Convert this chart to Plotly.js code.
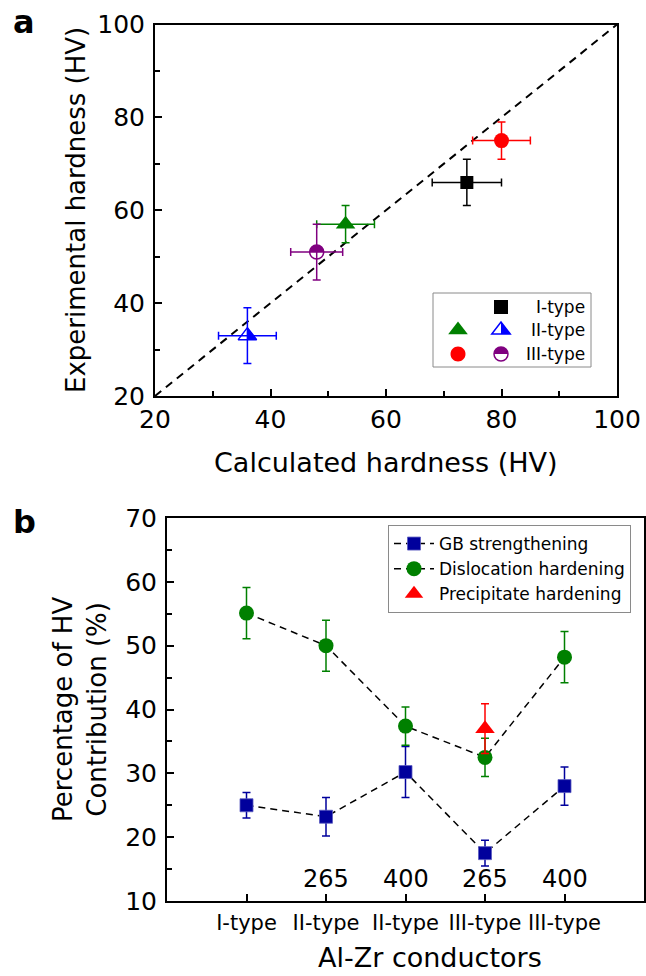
<!DOCTYPE html>
<html>
<head>
<meta charset="utf-8">
<script src="https://cdn.plot.ly/plotly-3.0.1.min.js"></script>
<style>html,body{margin:0;padding:0;background:#fff;}</style>
</head>
<body>
<div id="chart" style="width:646px;height:976px;"></div>
<script>
// ---------- Panel a data ----------
const diagCalc = [20, 100];
const diagExp = [20, 100];

const typeI_calc = [74];
const typeI_exp = [66];
const typeI_calcErr = [6];
const typeI_expErr = [5];

const typeII_filled_calc = [53];
const typeII_filled_exp = [57];
const typeII_filled_calcErr = [5];
const typeII_filled_expErr = [4];

const typeII_half_calc = [36];
const typeII_half_exp = [33];
const typeII_half_calcErr = [5];
const typeII_half_expErr = [6];

const typeIII_filled_calc = [80];
const typeIII_filled_exp = [75];
const typeIII_filled_calcErr = [5];
const typeIII_filled_expErr = [4];

const typeIII_half_calc = [48];
const typeIII_half_exp = [51];
const typeIII_half_calcErr = [4.5];
const typeIII_half_expErr = [6];

const legendALabels = ['I-type', 'II-type', 'III-type'];

// ---------- Panel b data ----------
const bCategories = ['I-type', 'II-type', 'II-type', 'III-type', 'III-type'];
const bTemps = ['', '265', '400', '265', '400'];
const bIndex = [0, 1, 2, 3, 4];
const gbValues = [25, 23.2, 30.2, 17.5, 28];
const gbErr = [2, 3, 4, 2, 3];
const dislValues = [55.1, 50, 37.4, 32.5, 48.2];
const dislErr = [4, 4, 3, 3, 4];
const precipIndex = [3];
const precipValues = [37];
const precipErr = [3.9];
const bSeriesNames = ['GB strengthening', 'Dislocation hardening', 'Precipitate hardening'];

// ---------- helpers ----------
const W = 646, H = 976;
const px = v => v / W;
const py = v => 1 - v / H;
const FONT = 'DejaVu Sans, Liberation Sans, Arial, sans-serif';
const K = 0.5523;

function triPath(s) {
  const r = s / 2, rt = r * 2 / Math.sqrt(3);
  return `M${-rt},${-r/2} L${rt},${-r/2} L0,${r} Z`;
}
function rightHalfTriPath(s) {
  const r = s / 2, rt = r * 2 / Math.sqrt(3);
  return `M0,${r} L0,${-r/2} L${rt},${-r/2} Z`;
}
function circlePath(s) {
  const r = s / 2;
  return `M${-r},0 C${-r},${K*r} ${-K*r},${r} 0,${r} C${K*r},${r} ${r},${K*r} ${r},0 ` +
         `C${r},${-K*r} ${K*r},${-r} 0,${-r} C${-K*r},${-r} ${-r},${-K*r} ${-r},0 Z`;
}
function topHalfCirclePath(s) {
  const r = s / 2;
  return `M${-r},0 C${-r},${K*r} ${-K*r},${r} 0,${r} C${K*r},${r} ${r},${K*r} ${r},0 Z`;
}
function squarePath(s) {
  const r = s / 2;
  return `M${-r},${-r} L${r},${-r} L${r},${r} L${-r},${r} Z`;
}
function markShape(path, xa, ya, xref, yref, fill, lineColor, lineWidth) {
  return {
    type: 'path', layer: 'above',
    xref: xref, yref: yref, xsizemode: 'pixel', ysizemode: 'pixel',
    xanchor: xa, yanchor: ya, path: path,
    fillcolor: fill, line: { color: lineColor || fill, width: lineWidth === undefined ? 0 : lineWidth }
  };
}

const GREEN = '#008000', RED = '#ff0000', BLUE = '#0000ff', PURPLE = '#800080', NAVY = '#00009c';

function ptTrace(xs, ys, xe, ye, color, symbol, size, lineW) {
  return {
    x: xs, y: ys, xaxis: 'x', yaxis: 'y', type: 'scatter', mode: 'markers', showlegend: false,
    marker: { color: color, symbol: symbol, size: size, line: { color: color, width: lineW || 0 } },
    error_x: { type: 'data', array: xe, visible: true, color: color, thickness: 1.5, width: 4 },
    error_y: { type: 'data', array: ye, visible: true, color: color, thickness: 1.5, width: 4 }
  };
}

const traces = [
  { x: diagCalc, y: diagExp, xaxis: 'x', yaxis: 'y', type: 'scatter', mode: 'lines', showlegend: false,
    line: { color: '#000', width: 2, dash: '8px,6px' } },
  ptTrace(typeI_calc, typeI_exp, typeI_calcErr, typeI_expErr, '#000000', 'square', 13),
  ptTrace(typeII_filled_calc, typeII_filled_exp, typeII_filled_calcErr, typeII_filled_expErr, GREEN, 'triangle-up', 17),
  ptTrace(typeII_half_calc, typeII_half_exp, typeII_half_calcErr, typeII_half_expErr, BLUE, 'triangle-up-open', 16, 1.5),
  ptTrace(typeIII_filled_calc, typeIII_filled_exp, typeIII_filled_calcErr, typeIII_filled_expErr, RED, 'circle', 15),
  ptTrace(typeIII_half_calc, typeIII_half_exp, typeIII_half_calcErr, typeIII_half_expErr, PURPLE, 'circle-open', 14, 1.5),

  // panel b
  { x: bIndex, y: gbValues, name: bSeriesNames[0], xaxis: 'x2', yaxis: 'y2', type: 'scatter', mode: 'lines+markers',
    line: { color: '#000', width: 1.5, dash: '7px,5px' },
    marker: { color: NAVY, symbol: 'square', size: 13, line: { color: '#5a5ac0', width: 0.8 } },
    error_y: { type: 'data', array: gbErr, visible: true, color: NAVY, thickness: 1.5, width: 4 } },
  { x: bIndex, y: dislValues, name: bSeriesNames[1], xaxis: 'x2', yaxis: 'y2', type: 'scatter', mode: 'lines+markers',
    line: { color: '#000', width: 1.5, dash: '7px,5px' },
    marker: { color: GREEN, symbol: 'circle', size: 15 },
    error_y: { type: 'data', array: dislErr, visible: true, color: GREEN, thickness: 1.5, width: 4 } },
  { x: precipIndex, y: precipValues, name: bSeriesNames[2], xaxis: 'x2', yaxis: 'y2', type: 'scatter', mode: 'markers',
    marker: { color: RED, symbol: 'triangle-up', size: 17 },
    error_y: { type: 'data', array: precipErr, visible: true, color: RED, thickness: 1.5, width: 4 } }
];

// shapes: half-filled markers at data points + manual legend for panel a
const shapes = [];
typeII_half_calc.forEach((xv, i) => shapes.push(markShape(rightHalfTriPath(16), xv, typeII_half_exp[i], 'x', 'y', BLUE)));
typeIII_half_calc.forEach((xv, i) => shapes.push(markShape(topHalfCirclePath(14), xv, typeIII_half_exp[i], 'x', 'y', PURPLE)));

// legend box panel a
shapes.push({ type: 'rect', xref: 'paper', yref: 'paper', x0: px(433), x1: px(591), y0: py(367), y1: py(293),
  line: { color: '#8a8a8a', width: 1 }, fillcolor: 'rgba(0,0,0,0)', layer: 'above' });
const rowY = [307, 330, 354];
const col1 = 458, col2 = 501;
shapes.push(markShape(squarePath(14), px(col2), py(rowY[0]), 'paper', 'paper', '#000'));
shapes.push(markShape(triPath(17), px(col1), py(rowY[1]), 'paper', 'paper', GREEN));
shapes.push(markShape(triPath(16), px(col2), py(rowY[1]), 'paper', 'paper', '#fff', BLUE, 1.5));
shapes.push(markShape(rightHalfTriPath(16), px(col2), py(rowY[1]), 'paper', 'paper', BLUE));
shapes.push(markShape(circlePath(15), px(col1), py(rowY[2]), 'paper', 'paper', RED));
shapes.push(markShape(circlePath(14), px(col2), py(rowY[2]), 'paper', 'paper', '#fff', PURPLE, 1.5));
shapes.push(markShape(topHalfCirclePath(14), px(col2), py(rowY[2]), 'paper', 'paper', PURPLE));

const annotations = [];
legendALabels.forEach((t, i) => annotations.push({
  text: t, xref: 'paper', yref: 'paper', x: px(587), y: py(rowY[i]), xanchor: 'right', yanchor: 'middle',
  showarrow: false, font: { family: FONT, size: 17, color: '#000' } }));

// titles
annotations.push({ text: 'Calculated hardness (HV)', xref: 'paper', yref: 'paper', x: px(386), y: py(462),
  xanchor: 'center', yanchor: 'middle', showarrow: false, font: { family: FONT, size: 27, color: '#000' } });
annotations.push({ text: 'Experimental hardness (HV)', xref: 'paper', yref: 'paper', x: px(76), y: py(210),
  xanchor: 'center', yanchor: 'middle', textangle: -90, showarrow: false, font: { family: FONT, size: 26, color: '#000' } });
annotations.push({ text: 'Percentage of HV<br>Contribution (%)', xref: 'paper', yref: 'paper', x: px(80), y: py(710),
  xanchor: 'center', yanchor: 'middle', textangle: -90, showarrow: false, font: { family: FONT, size: 26, color: '#000' } });
annotations.push({ text: 'Al-Zr conductors', xref: 'paper', yref: 'paper', x: px(430), y: py(957),
  xanchor: 'center', yanchor: 'middle', showarrow: false, font: { family: FONT, size: 27, color: '#000' } });
annotations.push({ text: '<b>a</b>', xref: 'paper', yref: 'paper', x: px(24), y: py(22),
  xanchor: 'center', yanchor: 'middle', showarrow: false, font: { family: FONT, size: 32, color: '#000' } });
annotations.push({ text: '<b>b</b>', xref: 'paper', yref: 'paper', x: px(24), y: py(522),
  xanchor: 'center', yanchor: 'middle', showarrow: false, font: { family: FONT, size: 32, color: '#000' } });

bTemps.forEach((t, i) => { if (t) annotations.push({
  text: t, xref: 'x2', yref: 'y2', x: bIndex[i], y: 13.44, xanchor: 'center', yanchor: 'middle',
  showarrow: false, font: { family: FONT, size: 24, color: '#000' } }); });

const axBase = {
  showline: true, mirror: true, linecolor: '#000', linewidth: 2, showgrid: false, zeroline: false,
  ticks: 'inside', ticklen: 7, tickwidth: 2, tickcolor: '#000', automargin: false, tickangle: 0,
  tickfont: { family: FONT, size: 25, color: '#000' }
};

const layout = {
  width: W, height: H, margin: { l: 0, r: 0, t: 0, b: 0 },
  paper_bgcolor: '#fff', plot_bgcolor: '#fff',
  xaxis: Object.assign({}, axBase, { domain: [px(155), px(617)], range: [20, 100], dtick: 20, tick0: 20, anchor: 'y',
    minor: { ticks: 'inside', ticklen: 5, tickwidth: 2, tickcolor: '#000', dtick: 10, showgrid: false } }),
  yaxis: Object.assign({}, axBase, { domain: [py(396), py(24.5)], range: [20, 100], dtick: 20, tick0: 20, anchor: 'x',
    ticklabelstandoff: 3,
    minor: { ticks: 'inside', ticklen: 5, tickwidth: 2, tickcolor: '#000', dtick: 10, showgrid: false } }),
  xaxis2: Object.assign({}, axBase, { domain: [px(167), px(644)], range: [-1, 5], anchor: 'y2',
    tickmode: 'array', tickvals: bIndex, ticktext: bCategories, ticklabelstandoff: 2,
    tickfont: { family: FONT, size: 21, color: '#000' } }),
  yaxis2: Object.assign({}, axBase, { domain: [py(901), py(518)], range: [10, 70], dtick: 10, tick0: 10, anchor: 'x2',
    ticklabelstandoff: 3,
    minor: { ticks: 'inside', ticklen: 5, tickwidth: 2, tickcolor: '#000', dtick: 5, showgrid: false } }),
  showlegend: true,
  legend: { x: px(388), y: py(525), xanchor: 'left', yanchor: 'top', bgcolor: '#fff',
    bordercolor: '#8a8a8a', borderwidth: 1, font: { family: FONT, size: 17, color: '#000' },
    itemwidth: 40, tracegroupgap: 0 },
  shapes: shapes,
  annotations: annotations
};

Plotly.newPlot('chart', traces, layout, { displayModeBar: false, staticPlot: true });
</script>
</body>
</html>
